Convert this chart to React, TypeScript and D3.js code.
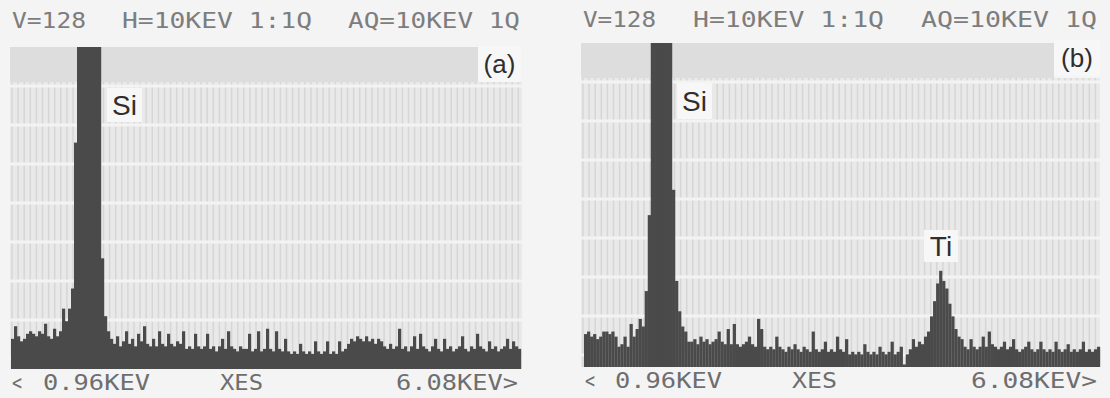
import * as d3 from "d3";

// EDS spectra, counts per channel (170 channels, full scale V=128)
const headerText = ["V=128", "H=10KEV 1:1Q", "AQ=10KEV 1Q"];
const footerText = ["<", "0.96KEV", "XES", "6.08KEV>"];

const countsA = [
  12, 17, 13, 11, 12, 14, 15, 14, 13, 15, 14, 18, 13, 12, 16, 13, 15, 24, 19, 24,
  32, 90, 128, 128, 128, 128, 128, 128, 128, 128, 44, 21, 15, 12, 10, 13, 9, 11, 15, 10,
  12, 9, 14, 11, 17, 10, 9, 12, 9, 15, 10, 9, 14, 10, 9, 11, 10, 15, 8, 9,
  8, 14, 9, 8, 9, 14, 8, 9, 7, 9, 12, 8, 15, 9, 8, 7, 9, 8, 8, 14,
  7, 8, 15, 7, 8, 16, 8, 7, 15, 8, 7, 12, 7, 6, 7, 6, 10, 7, 6, 7,
  6, 11, 7, 6, 7, 11, 6, 7, 6, 11, 7, 8, 10, 12, 11, 13, 12, 11, 13, 11,
  12, 10, 12, 11, 9, 8, 10, 8, 9, 16, 8, 9, 7, 9, 13, 8, 14, 9, 8, 7,
  9, 12, 8, 7, 12, 8, 9, 7, 8, 9, 13, 8, 7, 9, 8, 14, 9, 8, 7, 11,
  8, 9, 7, 8, 9, 12, 8, 11, 9, 8,
];

const countsB = [
  13, 14, 12, 13, 11, 12, 14, 14, 13, 14, 12, 8, 9, 12, 8, 17, 12, 15, 19, 16,
  30, 60, 128, 128, 128, 128, 128, 128, 128, 70, 34, 22, 16, 14, 10, 10, 11, 9, 12, 10,
  11, 9, 10, 11, 14, 10, 9, 15, 9, 17, 9, 8, 9, 10, 12, 9, 8, 19, 15, 8,
  7, 8, 7, 12, 8, 7, 6, 8, 7, 9, 7, 6, 8, 7, 6, 14, 7, 6, 7, 10,
  6, 7, 6, 12, 7, 6, 11, 5, 6, 5, 6, 5, 9, 6, 5, 6, 5, 8, 6, 5,
  6, 10, 5, 6, 8, 1, 5, 7, 11, 8, 10, 9, 12, 14, 20, 26, 33, 38, 34, 31,
  25, 20, 15, 12, 11, 8, 7, 11, 8, 7, 8, 12, 8, 14, 9, 8, 7, 8, 10, 7,
  8, 11, 7, 6, 7, 8, 10, 7, 6, 7, 10, 7, 6, 7, 6, 10, 7, 6, 7, 9,
  6, 7, 6, 7, 10, 6, 7, 6, 7, 8,
];

type Tag = { text: string; x: number; y: number; w: number; h: number };

type PanelCfg = {
  counts: number[];
  left: number;
  right: number;
  barX0: number;
  barX1: number;
  top: number;
  base: number;
  bandBottom: number;
  headerX: number[];
  headerW: number[];
  headerY: number;
  footerX: number[];
  footerW: number[];
  footerY: number;
  letter: Tag;
  tags: Tag[];
};

const panels: PanelCfg[] = [
  {
    counts: countsA,
    left: 10,
    right: 522,
    barX0: 11,
    barX1: 521,
    top: 47,
    base: 369,
    bandBottom: 82,
    headerX: [12, 122, 348],
    headerW: [74, 190, 172],
    headerY: 28,
    footerX: [12, 43, 220, 396],
    footerW: [10, 107, 43, 122],
    footerY: 390,
    letter: { text: "(a)", x: 478, y: 46, w: 43, h: 36 },
    tags: [{ text: "Si", x: 107, y: 88, w: 35, h: 34 }],
  },
  {
    counts: countsB,
    left: 581,
    right: 1100,
    barX0: 584,
    barX1: 1100,
    top: 43,
    base: 367,
    bandBottom: 78,
    headerX: [583, 693, 921],
    headerW: [73, 191, 176],
    headerY: 27,
    footerX: [585, 615, 792, 971],
    footerW: [10, 107, 45, 126],
    footerY: 388,
    letter: { text: "(b)", x: 1054, y: 40, w: 46, h: 36 },
    tags: [
      { text: "Si", x: 677, y: 83, w: 35, h: 36 },
      { text: "Ti", x: 924, y: 230, w: 34, h: 32 },
    ],
  },
];

function Panel({ cfg }: { cfg: PanelCfg }) {
  const n = cfg.counts.length;
  const x = d3.scaleLinear().domain([0, n]).range([cfg.barX0, cfg.barX1]);
  const y = d3.scaleLinear().domain([0, 128]).range([cfg.base, cfg.top]).clamp(true);
  const step = x(1) - x(0);

  const vLines = d3.range(cfg.left + 2, cfg.right, 6.1);
  const hLines = d3.range(cfg.bandBottom + 4, cfg.base - 6, 39);

  return (
    <g>
      {/* screen background */}
      <rect x={cfg.left} y={cfg.bandBottom} width={cfg.right - cfg.left} height={cfg.base - cfg.bandBottom} fill="#e9e9e9" />
      <rect x={cfg.left} y={cfg.top} width={cfg.letter.x - cfg.left} height={cfg.bandBottom - cfg.top} fill="#dddddd" />
      {vLines.map((v) => (
        <line key={`v${v}`} x1={v} x2={v} y1={cfg.bandBottom} y2={cfg.base} stroke="#d6d6d6" strokeWidth={1.5} />
      ))}
      {hLines.map((h) => (
        <line key={`h${h}`} x1={cfg.left} x2={cfg.right} y1={h} y2={h} stroke="#f3f3f3" strokeWidth={3} />
      ))}

      {/* spectrum */}
      {cfg.counts.map((c, i) => (
        <rect
          key={i}
          x={x(i)}
          y={y(c)}
          width={step + 0.2}
          height={cfg.base - y(c)}
          fill="#4a4a4a"
        />
      ))}

      {/* peak tags */}
      {cfg.tags.map((t) => (
        <g key={t.text}>
          <rect x={t.x} y={t.y} width={t.w} height={t.h} fill="#f7f7f7" />
          <text
            x={t.x + t.w / 2}
            y={t.y + t.h / 2 + 10}
            textAnchor="middle"
            fontFamily="'Liberation Sans', Arial, sans-serif"
            fontSize={28}
            fill="#2e2e2e"
          >
            {t.text}
          </text>
        </g>
      ))}

      <rect x={cfg.letter.x} y={cfg.letter.y} width={cfg.letter.w} height={cfg.letter.h} fill="#f7f7f7" />
      <text
        x={cfg.letter.x + cfg.letter.w / 2}
        y={cfg.letter.y + cfg.letter.h / 2 + 9}
        textAnchor="middle"
        fontFamily="'Liberation Sans', Arial, sans-serif"
        fontSize={26}
        fill="#2e2e2e"
      >
        {cfg.letter.text}
      </text>

      {/* header */}
      {headerText.map((t, i) => (
        <text
          key={t}
          x={cfg.headerX[i]}
          y={cfg.headerY}
          textLength={cfg.headerW[i]}
          lengthAdjust="spacingAndGlyphs"
          fontFamily="'DejaVu Sans Mono', monospace"
          fontSize={22}
          fill="#7d7d7d"
        >
          {t}
        </text>
      ))}

      {/* footer */}
      {footerText.map((t, i) => (
        <text
          key={t}
          x={cfg.footerX[i]}
          y={cfg.footerY}
          textLength={cfg.footerW[i]}
          lengthAdjust="spacingAndGlyphs"
          fontFamily="'DejaVu Sans Mono', monospace"
          fontSize={21}
          fill="#6e6e6e"
        >
          {t}
        </text>
      ))}
    </g>
  );
}

export default function App() {
  return (
    <svg
      width={1110}
      height={398}
      style={{ position: "absolute", left: 0, top: 0, display: "block" }}
    >
      <rect width={1110} height={398} fill="#f4f4f4" />
      {panels.map((p, i) => (
        <Panel key={i} cfg={p} />
      ))}
    </svg>
  );
}
